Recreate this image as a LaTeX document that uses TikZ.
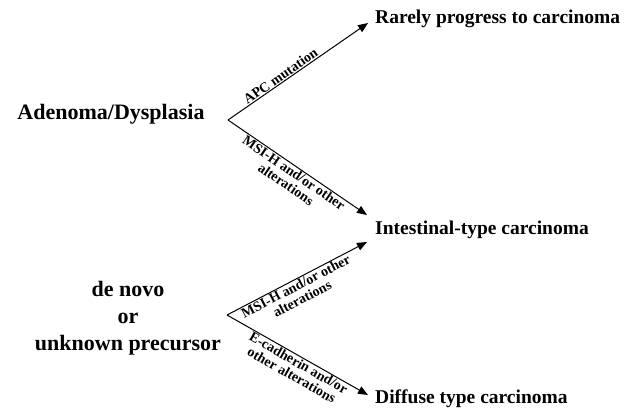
\documentclass[tikz,border=0pt]{standalone}
\usepackage{fontspec}
\setmainfont{Liberation Serif}
\usetikzlibrary{arrows.meta, positioning, calc}
\tikzset{
  % Starting points and outcomes
  stagenode/.style={font=\fontsize{22}{27}\selectfont\bfseries, align=center, inner sep=0pt},
  outcomenode/.style={font=\fontsize{19.5}{24}\selectfont\bfseries, anchor=west, inner sep=0pt},
  % Labels along the pointers
  pathlabel/.style={font=\fontsize{14}{14}\selectfont\bfseries, align=center, sloped, inner sep=0.8pt},
  % Pointers
  flowpointer/.style={-{Triangle[length=10pt,width=8pt]}, line width=1pt, draw=black},
}
\begin{document}
\begin{tikzpicture}[x=1pt, y=-1pt]
  \useasboundingbox (0,0) rectangle (635,410);

  % Starting points
  \node[stagenode] (adenoma) at (111,114) {Adenoma/Dysplasia};
  \node[stagenode] (denovo) at (128,318) {de novo\\or\\unknown precursor};

  % Outcomes
  \node[outcomenode] (rarely) at (375,19) {Rarely progress to carcinoma};
  \node[outcomenode] (intestinal) at (375,230) {Intestinal-type carcinoma};
  \node[outcomenode] (diffuse) at (375,399) {Diffuse type carcinoma};

  % Forks
  \coordinate (forkA) at (228,120);
  \coordinate (forkB) at (227,315);

  \draw[flowpointer] (forkA) -- ([shift={(-7,4)}]rarely.west)
    node[pathlabel, above, pos=0.4] {APC mutation};
  \draw[flowpointer] (forkA) -- ([shift={(-8,-15)}]intestinal.west)
    node[pathlabel, below, pos=0.5] {MSI-H and/or other\\alterations};
  \draw[flowpointer] (forkB) -- ([shift={(-8,12)}]intestinal.west)
    node[pathlabel, below, pos=0.47] {MSI-H and/or other\\alterations};
  \draw[flowpointer] (forkB) -- ([shift={(-7,-4)}]diffuse.west)
    node[pathlabel, below, pos=0.53] {E-cadherin and/or\\other alterations};

\end{tikzpicture}
\end{document}
